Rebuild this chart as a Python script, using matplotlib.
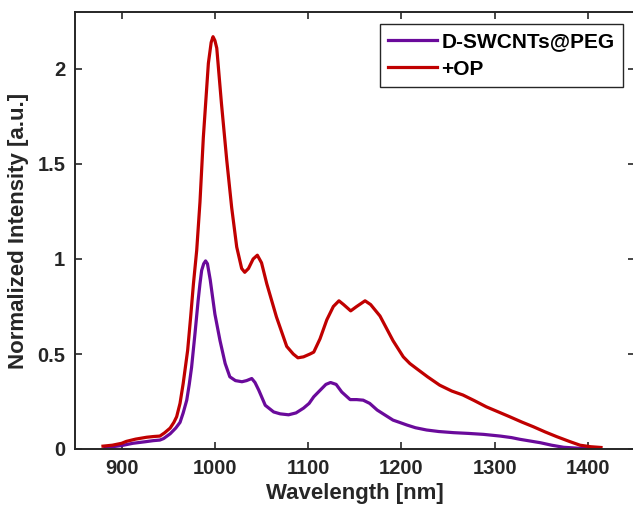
import numpy as np
import matplotlib
matplotlib.use("Agg")
import matplotlib.pyplot as plt

# D-SWCNTs@PEG spectrum
wl_peg = [882, 890, 900, 912, 925, 934, 941, 945, 952, 958, 962.6, 966, 969.8, 972.5, 975, 978.7,
          982, 984, 985.8, 988, 990, 992, 995, 1000, 1005.5, 1011, 1016, 1022, 1029, 1034, 1039.5,
          1043, 1047, 1054, 1063, 1070, 1079, 1087, 1095, 1101, 1106, 1113, 1119, 1124, 1130,
          1136, 1145, 1152, 1159, 1166, 1174, 1182, 1191, 1198, 1206, 1215, 1227, 1240, 1256,
          1272, 1288, 1306, 1318, 1327, 1338, 1349, 1361, 1374, 1390, 1405, 1413]
int_peg = [0.010, 0.012, 0.018, 0.030, 0.038, 0.044, 0.047, 0.055, 0.08, 0.11, 0.14, 0.19, 0.257,
           0.34, 0.43, 0.61, 0.78, 0.87, 0.94, 0.975, 0.99, 0.975, 0.89, 0.71, 0.57, 0.45, 0.38,
           0.36, 0.354, 0.36, 0.371, 0.35, 0.31, 0.23, 0.195, 0.185, 0.18, 0.19, 0.215, 0.24,
           0.275, 0.31, 0.34, 0.35, 0.34, 0.30, 0.26, 0.26, 0.257, 0.24, 0.205, 0.18, 0.152,
           0.14, 0.126, 0.112, 0.10, 0.092, 0.086, 0.082, 0.077, 0.068, 0.060, 0.051, 0.042,
           0.033, 0.020, 0.009, 0.004, 0.002, 0.002]

# +OP spectrum
wl_op = [880, 890, 900, 905, 915, 927, 935, 941, 946, 952, 956, 959, 962.6, 966, 970.8, 974, 977,
         980.5, 984, 987.6, 993, 996, 998, 1000, 1002, 1007, 1012.7, 1018, 1023.4, 1028.7, 1032,
         1036, 1041, 1045.5, 1050, 1055.6, 1066, 1077, 1084, 1089, 1095, 1102, 1106, 1112.7,
         1120, 1127, 1133, 1138, 1145.6, 1152, 1161, 1167, 1177, 1191, 1202, 1209, 1216, 1228,
         1241, 1254, 1266, 1278, 1291, 1304, 1316, 1329, 1341.5, 1354, 1366.5, 1380, 1391.5,
         1403, 1414]
int_op = [0.015, 0.020, 0.030, 0.040, 0.052, 0.062, 0.066, 0.068, 0.085, 0.11, 0.14, 0.17, 0.24,
          0.345, 0.52, 0.695, 0.87, 1.046, 1.30, 1.64, 2.03, 2.14, 2.17, 2.15, 2.11, 1.82, 1.52,
          1.27, 1.063, 0.95, 0.93, 0.95, 1.00, 1.02, 0.98, 0.87, 0.695, 0.54, 0.50, 0.48, 0.485,
          0.50, 0.51, 0.58, 0.68, 0.75, 0.78, 0.76, 0.727, 0.75, 0.78, 0.76, 0.70, 0.57, 0.485,
          0.45, 0.424, 0.38, 0.336, 0.305, 0.284, 0.255, 0.222, 0.195, 0.17, 0.142, 0.117, 0.09,
          0.065, 0.04, 0.02, 0.012, 0.008]

plt.rcParams['font.family'] = ['Liberation Sans', 'DejaVu Sans']
plt.rcParams['font.weight'] = 'bold'

fig = plt.figure(figsize=(6.33, 5.13), dpi=100)
ax = fig.add_axes([75/633, (513-449)/513, (634.6-75)/633, (449-12)/513])

ax.plot(wl_peg, int_peg, color='#6a0a9b', lw=2.3, label='D-SWCNTs@PEG')
ax.plot(wl_op, int_op, color='#c00000', lw=2.3, label='+OP')

ax.set_xlim(850, 1450)
ax.set_ylim(0, 2.3)
ax.set_xticks([900, 1000, 1100, 1200, 1300, 1400])
ax.set_yticks([0, 0.5, 1, 1.5, 2])
ax.set_yticklabels(['0', '0.5', '1', '1.5', '2'])
ax.tick_params(direction='in', length=5, width=1.2, top=True, right=True,
               labelsize=14.5, colors='#262626', pad=7)
for t in ax.get_xticklabels() + ax.get_yticklabels():
    t.set_fontweight('bold')
for s in ax.spines.values():
    s.set_linewidth(1.4)
    s.set_color('#262626')

ax.set_xlabel('Wavelength [nm]', fontsize=16, fontweight='bold', color='#262626', labelpad=4)
ax.set_ylabel('Normalized Intensity [a.u.]', fontsize=16, fontweight='bold', color='#262626', labelpad=6)

leg = ax.legend(loc='upper right', bbox_to_anchor=(623/633, 1 - 24/513),
                bbox_transform=fig.transFigure, borderaxespad=0, fancybox=False,
                edgecolor='#262626', framealpha=1, handlelength=2.35, handletextpad=0.2,
                borderpad=0.4, labelspacing=0.4, prop={'size': 15, 'weight': 'bold'})
leg.get_frame().set_linewidth(1.0)

fig.savefig('out.png', dpi=100)
